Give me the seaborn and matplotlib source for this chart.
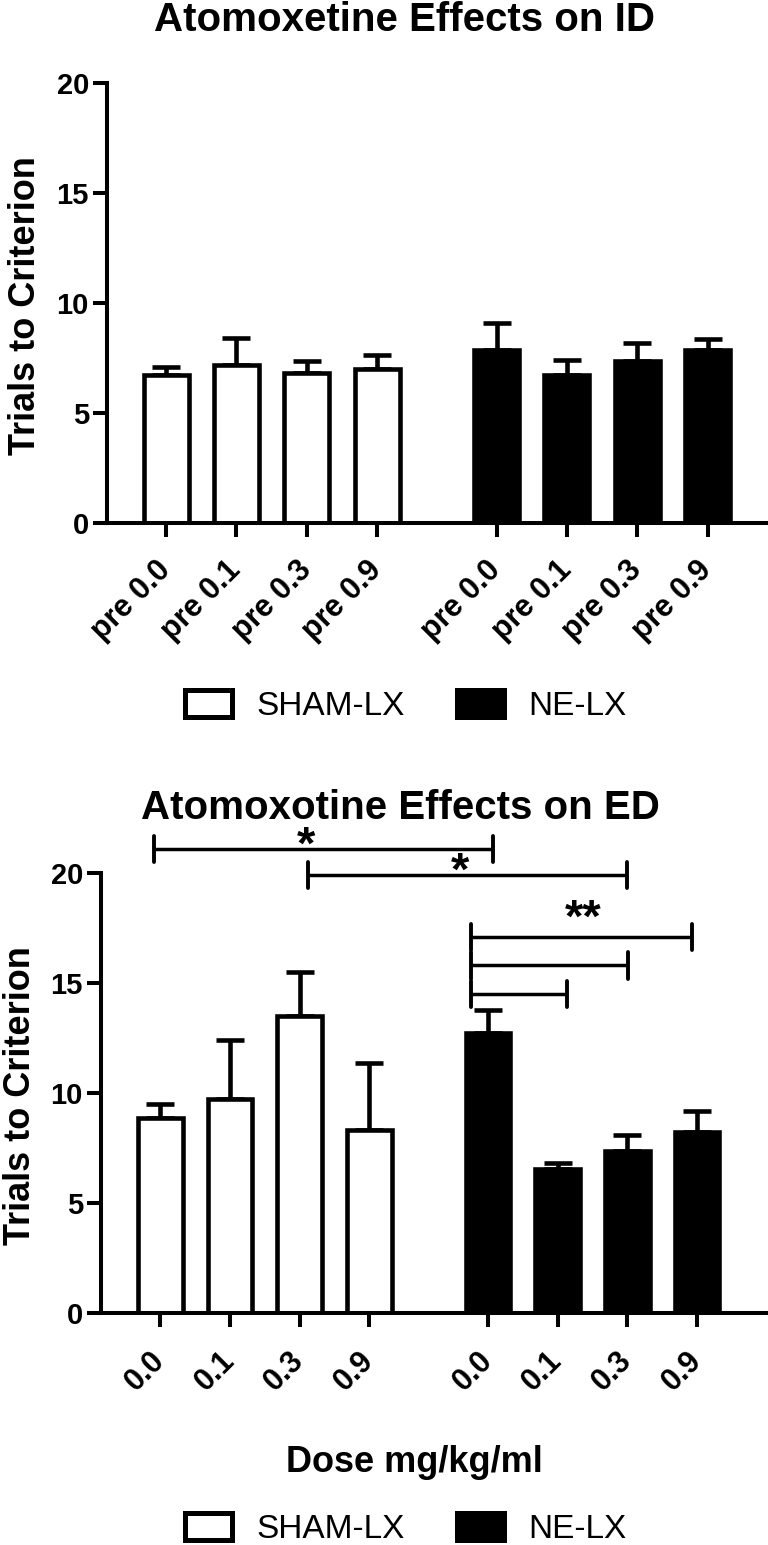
import numpy as np
import pandas as pd
import matplotlib
matplotlib.use("Agg")
import matplotlib.pyplot as plt
import seaborn as sns
from matplotlib.patches import Patch

# ---------------- data ----------------
groups = ["SHAM-LX", "NE-LX"]
id_labels = ["pre 0.0", "pre 0.1", "pre 0.3", "pre 0.9"]
ed_labels = ["0.0", "0.1", "0.3", "0.9"]

id_sham_mean = [6.74, 7.20, 6.83, 7.00]
id_sham_sem = [0.36, 1.20, 0.54, 0.64]
id_ne_mean = [7.88, 6.74, 7.37, 7.88]
id_ne_sem = [1.22, 0.66, 0.80, 0.47]

ed_sham_mean = [8.86, 9.73, 13.50, 8.34]
ed_sham_sem = [0.66, 2.67, 1.98, 3.03]
ed_ne_mean = [12.73, 6.55, 7.37, 8.22]
ed_ne_sem = [1.04, 0.29, 0.72, 0.95]

# significance annotations for the ED panel (x in bar-position units, y in data units)
ed_brackets = [(-0.09, 4.78, 21.1), (2.12, 6.69, 19.9),
               (4.46, 7.63, 17.1), (4.46, 6.71, 15.8), (4.46, 5.84, 14.5)]
ed_stars = [("*", 2.09, 21.55), ("*", 4.30, 20.36), ("**", 6.07, 18.23)]

# ---------------- style ----------------
sns.set_style("ticks")
plt.rcParams["font.family"] = ["Liberation Sans", "DejaVu Sans"]
plt.rcParams["font.weight"] = "bold"
for k in ["text.color", "axes.labelcolor", "xtick.color", "ytick.color", "axes.edgecolor"]:
    plt.rcParams[k] = "black"

W, H, DPI = 768, 1545, 100
fig = plt.figure(figsize=(W / DPI, H / DPI), dpi=DPI)

GAP = 4.7
palette = {"SHAM-LX": "white", "NE-LX": "black"}
LW = 3.3


def make_df(sham_mean, sham_sem, ne_mean, ne_sem):
    pos = [float(i) for i in range(len(sham_mean))] + [GAP + i for i in range(len(ne_mean))]
    return pd.DataFrame({
        "pos": pos,
        "mean": list(sham_mean) + list(ne_mean),
        "sem": list(sham_sem) + list(ne_sem),
        "group": [groups[0]] * len(sham_mean) + [groups[1]] * len(ne_mean),
    })


def panel(rect, df, labels, xlim):
    ax = fig.add_axes(rect)
    sns.barplot(data=df, x="pos", y="mean", hue="group", palette=palette,
                native_scale=True, width=0.64, edgecolor="black", linewidth=LW,
                errorbar=None, legend=False, dodge=False, ax=ax, zorder=2)
    ax.errorbar(df["pos"], df["mean"], yerr=[np.zeros(len(df)), df["sem"]],
                fmt="none", ecolor="black", elinewidth=LW, capsize=10,
                capthick=LW, zorder=1)
    ax.set_xlim(*xlim)
    ax.set_ylim(0, 20)
    ax.set_yticks([0, 5, 10, 15, 20])
    ax.set_xticks(df["pos"], labels)
    for s in ["top", "right"]:
        ax.spines[s].set_visible(False)
    for s in ["left", "bottom"]:
        ax.spines[s].set_linewidth(2.9)
    ax.tick_params(axis="both", width=2.9, length=10, colors="black")
    ax.tick_params(axis="y", pad=3, labelsize=21)
    ax.tick_params(axis="x", pad=21, labelsize=22)
    for t in ax.get_xticklabels():
        t.set_rotation(45)
        t.set_ha("right")
        t.set_va("center")
        t.set_rotation_mode("anchor")
        t.set_fontweight("bold")
    for t in ax.get_yticklabels():
        t.set_fontweight("bold")
    ax.set_xlabel("")
    ax.set_ylabel("")
    ax.patch.set_alpha(0)
    return ax


def fx(px):
    return px / W


def fy(py):
    return 1 - py / H


# ---------------- top panel (ID) ----------------
df_id = make_df(id_sham_mean, id_sham_sem, id_ne_mean, id_ne_sem)
ax1 = panel([fx(107), fy(523), 1 - fx(107), (523 - 83) / H], df_id,
            id_labels * 2, (-0.84, 8.56))
fig.text(fx(405), fy(31), "Atomoxetine Effects on ID", ha="center", va="baseline",
         fontsize=29, fontweight="bold")
fig.text(fx(35), fy(306), "Trials to Criterion", rotation=90, rotation_mode="anchor",
         ha="center", va="baseline", fontsize=26, fontweight="bold")

# ---------------- bottom panel (ED) ----------------
df_ed = make_df(ed_sham_mean, ed_sham_sem, ed_ne_mean, ed_ne_sem)
ax2 = panel([fx(101), fy(1313), 1 - fx(101), (1313 - 873) / H], df_ed,
            ed_labels * 2, (-0.85, 8.72))
fig.text(fx(400), fy(819), "Atomoxotine Effects on ED", ha="center", va="baseline",
         fontsize=29, fontweight="bold")
fig.text(fx(30), fy(1096), "Trials to Criterion", rotation=90, rotation_mode="anchor",
         ha="center", va="baseline", fontsize=26, fontweight="bold")
fig.text(fx(414), fy(1472), "Dose mg/kg/ml", ha="center", va="baseline",
         fontsize=26, fontweight="bold")

for x0, x1, y in ed_brackets:
    ax2.plot([x0, x1], [y, y], color="black", lw=2.5, clip_on=False,
             solid_capstyle="butt")
    for xe in (x0, x1):
        ax2.plot([xe, xe], [y - 0.6, y + 0.6], color="black", lw=2.8, clip_on=False,
                 solid_capstyle="round")
STAR_FS = 34
for txt, x, y in ed_stars:
    ax2.annotate(txt, xy=(x, y), xytext=(0, -0.42 * STAR_FS), textcoords="offset points",
                 ha="center", va="baseline", fontsize=STAR_FS, fontweight="bold",
                 annotation_clip=False)

# ---------------- legends ----------------
handles = [Patch(facecolor=palette[g], edgecolor="black", linewidth=3.6, label=g)
           for g in groups]
for ycen in (706, 1529):
    fig.legend(handles=handles, loc="center", bbox_to_anchor=(fx(406), fy(ycen)),
               ncol=2, frameon=False, prop={"size": 24, "weight": "normal"},
               handlelength=1.4, handleheight=0.85, handletextpad=0.75,
               columnspacing=1.55, borderpad=0, borderaxespad=0)

fig.savefig("out.png", dpi=DPI)
